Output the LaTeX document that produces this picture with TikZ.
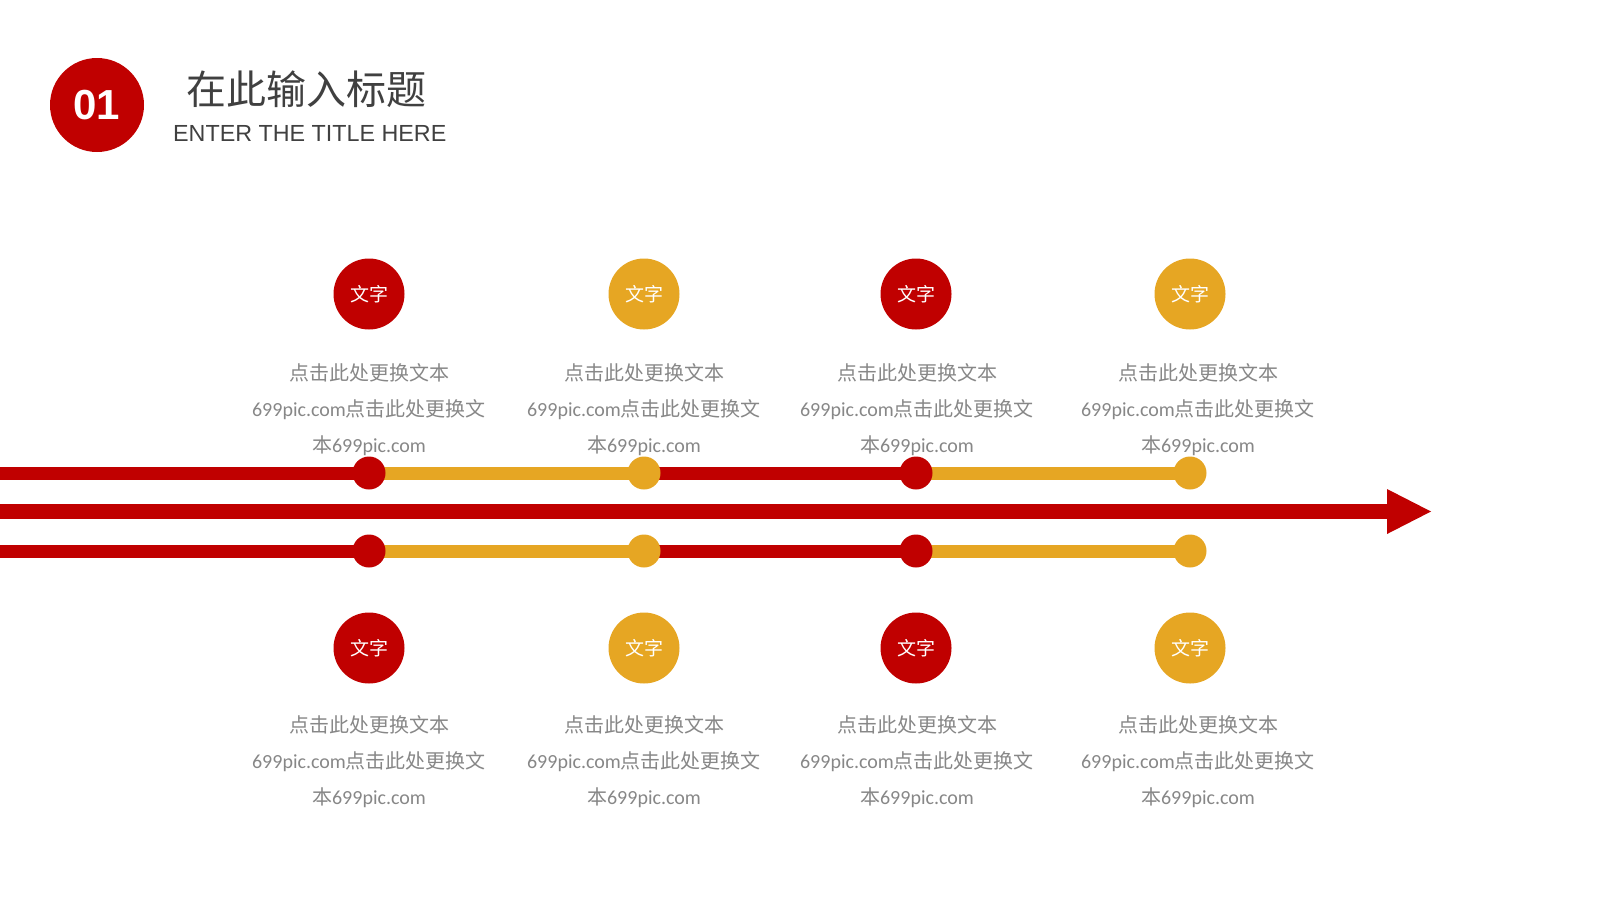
\documentclass[tikz,border=0pt]{standalone}
\usepackage{fontspec}
\setmainfont{Carlito}
\setsansfont{Liberation Sans}
\newfontfamily\cjk{Noto Sans CJK SC}
\usetikzlibrary{arrows.meta}
\definecolor{mainred}{HTML}{C00000}
\definecolor{gold}{HTML}{E6A623}
\definecolor{textgray}{HTML}{878787}
\definecolor{titlegray}{HTML}{404040}
\newcommand\zh[1]{{\cjk #1}}
\newcommand\desctext{\zh{点击此处更换文本}\\699pic.com\zh{点击此处更换文}\\\zh{本}699pic.com}

\begin{document}
\begin{tikzpicture}[x=1pt, y=-1pt,
  bar/.style={line width=13pt},
  dot/.style={circle, inner sep=0pt, minimum size=33pt},
  badge/.style={circle, inner sep=0pt, minimum size=71pt, text=white, font=\cjk\fontsize{19}{19}\selectfont},
  desc/.style={text=textgray, align=center, font=\fontsize{20}{36}\selectfont}]
\useasboundingbox (0,0) rectangle (1600,900);
% heading
\node[circle, fill=mainred, minimum size=94pt, text=white, font=\sffamily\bfseries\fontsize{42}{42}\selectfont] (num) at (97,105) {01};
\node[anchor=west, inner sep=0pt, text=titlegray, font=\cjk\fontsize{40}{40}\selectfont] (title) at (186,89) {在此输入标题};
\node[anchor=west, inner sep=0pt, text=titlegray, font=\sffamily\fontsize{23.3}{23.3}\selectfont] (subtitle) at (173,133) {ENTER THE TITLE HERE};

% main arrow
\coordinate (arrowstart) at (0,511.5);
\coordinate (arrowtip) at (1431,511.5);
\draw[mainred, line width=15pt, -{Triangle[length=44pt, width=45pt, line width=0pt]}] (arrowstart) -- (arrowtip);

% side tracks
\coordinate (top0) at (0,473);
\coordinate (bot0) at (0,551);
\foreach \x/\col [count=\i, remember=\i as \j (initially 0)] in {369/mainred, 644/gold, 916/mainred, 1190/gold}{
    \coordinate (top\i) at (\x,473);
    \coordinate (bot\i) at (\x,551);
    \draw[\col, bar] (top\j) -- (top\i);
    \draw[\col, bar] (bot\j) -- (bot\i);
}
\foreach \x/\col/\tx [count=\i] in {369/mainred/369, 644/gold/644, 916/mainred/917, 1190/gold/1198}{
    \node[dot, fill=\col] (topdot\i) at (top\i) {};
    \node[dot, fill=\col] (botdot\i) at (bot\i) {};
    \node[badge, fill=\col] (topbadge\i) at (\x,294) {文字};
    \node[desc] (topdesc\i) at (\tx,409.5) {\desctext};
    \node[badge, fill=\col] (botbadge\i) at (\x,648) {文字};
    \node[desc] (botdesc\i) at (\tx,761.5) {\desctext};
}
\end{tikzpicture}
\end{document}
